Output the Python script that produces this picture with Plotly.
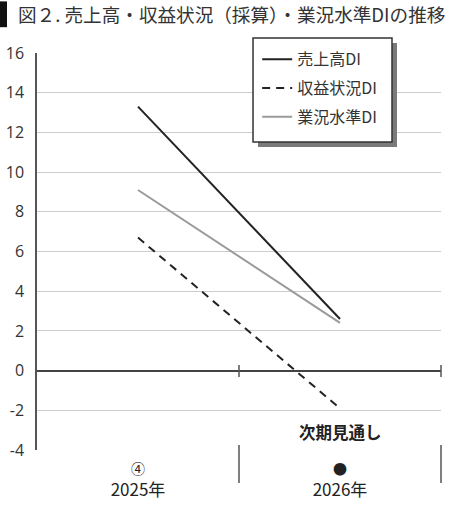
import plotly.graph_objects as go

categories = ["2025年", "2026年"]
tick_labels = ["<span style='font-size:14px'>④</span><br>2025年",
               "<span style='font-size:14px'>●</span><br>2026年"]
sales_di = [13.3, 2.6]
profit_di = [6.7, -1.9]
business_di = [9.1, 2.4]
y_ticks = [16, 14, 12, 10, 8, 6, 4, 2, 0, -2, -4]
y_tick_labels = ["16", "14", "12", "10", "8", "6", "4", "2", "0", "-2", "-4"]

SANS = "Noto Sans CJK JP"
LEG = "Noto Sans CJK JP"

fig = go.Figure()
fig.add_trace(go.Scatter(x=categories, y=sales_di, mode="lines", name="売上高DI",
                         line=dict(color="#222222", width=2), legendgroup="a"))
fig.add_trace(go.Scatter(x=categories, y=profit_di, mode="lines", name="収益状況DI",
                         line=dict(color="#222222", width=2, dash="8px,6px"), legendgroup="b"))
fig.add_trace(go.Scatter(x=categories, y=business_di, mode="lines", name="業況水準DI",
                         line=dict(color="#9a9a9a", width=2), legendgroup="c"))

shapes = [
    # title bar
    dict(type="rect", xref="paper", yref="paper", x0=-0.0916, x1=-0.0743, y0=1.065, y1=1.13,
         fillcolor="#111111", line=dict(width=0)),
    # legend shadow
    dict(type="rect", xref="paper", yref="paper", x0=0.5470, x1=0.8911, y0=0.7632, y1=1.0252,
         fillcolor="#7a7a7a", line=dict(width=0), layer="above"),
    # legend box
    dict(type="rect", xref="paper", yref="paper", x0=0.5347, x1=0.8787, y0=0.7758, y1=1.0378,
         fillcolor="white", line=dict(color="#333333", width=1.5), layer="above"),
]
# separators below axis and ticks on zero line
for xd in [0.5, 1.0]:
    shapes.append(dict(type="line", xref="paper", yref="paper", x0=xd, x1=xd,
                       y0=0.0126, y1=-0.083, line=dict(color="#555555", width=1.5)))
    shapes.append(dict(type="line", xref="paper", yref="paper", x0=xd, x1=xd,
                       y0=0.2141, y1=0.1839, line=dict(color="#555555", width=1.5)))
fig.update_layout(shapes=shapes)

fig.add_annotation(x=categories[1], y=-3.1, text="<b>次期見通し</b>", showarrow=False,
                   font=dict(family=SANS, size=16.5, color="#222222"))

fig.update_layout(
    width=451, height=507,
    margin=dict(l=37, r=10, t=53, b=57, autoexpand=False),
    paper_bgcolor="white", plot_bgcolor="white",
    title=dict(text="図２. 売上高・収益状況（採算）・業況水準DIの推移", x=18/451, xanchor="left",
               xref="container", y=1-15/507, yanchor="middle", pad=dict(l=0, r=0, t=0, b=0),
               font=dict(family=SANS, size=18.6, color="#333333")),
    showlegend=True,
    legend=dict(x=0.545, y=1.027, xanchor="left", yanchor="top",
                bgcolor="rgba(0,0,0,0)", borderwidth=0,
                font=dict(family=LEG, size=16, color="#333333"),
                tracegroupgap=5, itemwidth=30),
    xaxis=dict(type="category", range=[-0.5, 1.5], tickvals=categories, ticktext=tick_labels,
               showgrid=False, showline=False, ticks="", zeroline=False, automargin=False,
               ticklabelstandoff=6,
               tickfont=dict(family=SANS, size=17, color="#222222")),
    yaxis=dict(range=[-4, 16], tickvals=y_ticks, ticktext=y_tick_labels,
               showgrid=True, gridcolor="#cccccc", gridwidth=1,
               zeroline=True, zerolinecolor="#444444", zerolinewidth=1.5,
               showline=True, linecolor="#555555", linewidth=1.5, ticks="",
               ticklabelstandoff=8, automargin=False,
               tickfont=dict(family="Open Sans", size=16, color="#333333")),
)

fig.write_html("out.html", config={"displayModeBar": False},
               post_script="document.body.style.margin='0';")
